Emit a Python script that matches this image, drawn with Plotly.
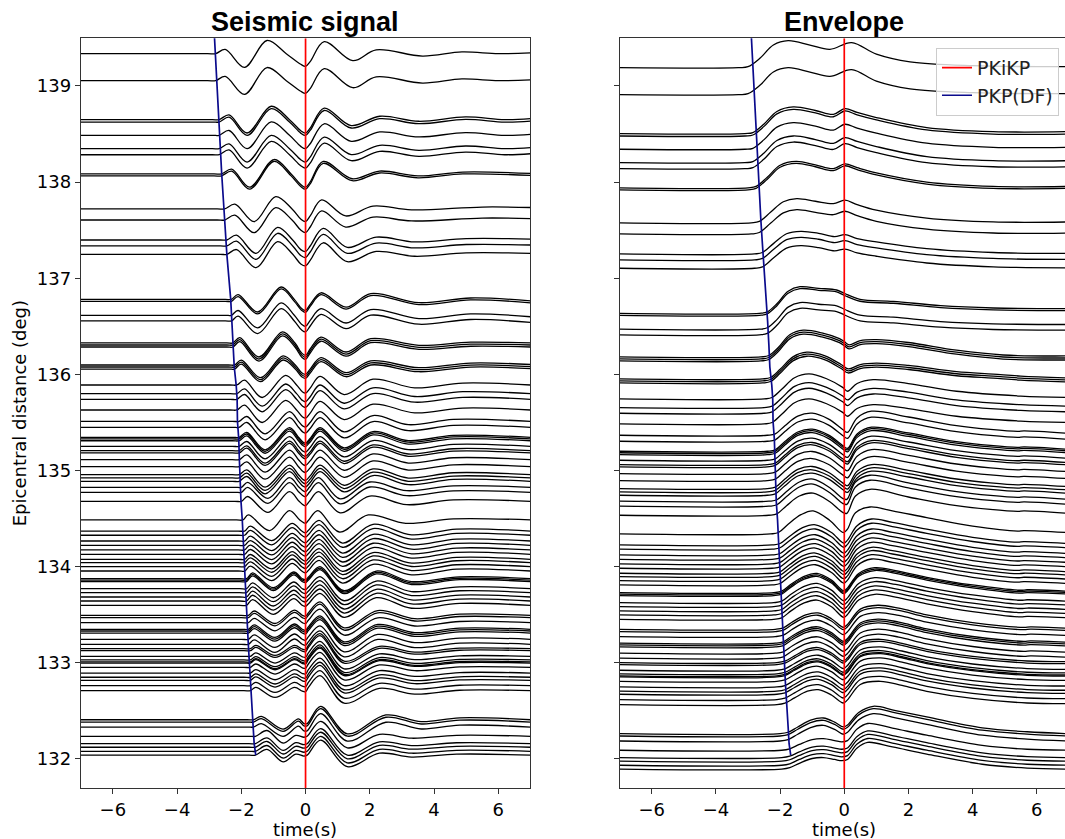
import plotly.graph_objects as go

# ---------------- data ----------------
# epicentral distance of each station trace (deg)
distances = [139.336, 139.055, 138.650, 138.625, 138.487, 138.348, 138.285, 138.085, 138.065,
             137.721, 137.606, 137.398, 137.336, 137.249, 136.780, 136.760, 136.615, 136.556,
             136.327, 136.306, 136.285, 136.098, 136.077, 136.056, 135.890, 135.800, 135.741,
             135.630, 135.512, 135.450, 135.346, 135.330, 135.310, 135.252, 135.207, 135.183,
             135.113, 135.040, 134.957, 134.923, 134.888, 134.826, 134.774, 134.680, 134.486,
             134.371, 134.327, 134.267, 134.222, 134.174, 134.129, 134.077, 134.042, 134.000,
             133.955, 133.875, 133.860, 133.845, 133.771, 133.730, 133.685, 133.643, 133.598,
             133.494, 133.470, 133.418, 133.349, 133.331, 133.310, 133.245, 133.193, 133.147,
             133.126, 133.068, 133.030, 133.009, 132.998, 132.953, 132.894, 132.850, 132.818,
             132.762, 132.710, 132.408, 132.384, 132.332, 132.236, 132.159, 132.122, 132.080,
             132.040]

# lower distance bound of each waveform group (traces in a group share one shape)
group_floor = [138.9, 138.2, 137.9, 137.5, 137.0, 136.45, 136.2, 135.95, 135.55,
               134.85, 134.55, 134.4, 133.95, 133.55, 133.15, 132.7, 132.3, 0.0]

# seismic waveform key points per group: (time s, amplitude deg)
seismic_shapes = [
    [(-7, 0), (-3.05, 0), (-2.8, 0), (-2.5, 0.045), (-1.9, -0.142), (-1.2, 0.137), (-0.6, 0.0), (-0.15, -0.11), (0, -0.132), (0.15, -0.08), (0.58, 0.125), (1.47, -0.073), (2.2, 0.04), (3.64, -0.025), (4.87, 0.018), (6.0, 0.0), (7, 0.008)],
    [(-7, 0), (-2.9, 0), (-2.69, 0), (-2.38, 0.05), (-1.82, -0.139), (-1.07, 0.139), (-0.5, 0.0), (-0.15, -0.115), (0, -0.139), (0.15, -0.085), (0.58, 0.12), (1.42, -0.062), (2.31, 0.035), (3.53, -0.017), (4.98, 0.028), (6.2, 0.0), (7, 0.01)],
    [(-7, 0), (-2.85, 0), (-2.62, 0), (-2.3, 0.05), (-1.74, -0.138), (-0.98, 0.15), (-0.45, 0.0), (-0.15, -0.11), (0, -0.138), (0.15, -0.08), (0.55, 0.13), (1.45, -0.05), (2.3, 0.03), (3.5, -0.02), (4.9, 0.02), (7, 0.005)],
    [(-7, 0), (-2.75, 0), (-2.52, 0), (-2.2, 0.05), (-1.6, -0.132), (-0.93, 0.128), (-0.42, 0.0), (-0.15, -0.105), (0, -0.132), (0.15, -0.07), (0.5, 0.094), (1.25, -0.073), (2.1, 0.03), (3.3, -0.01), (5.5, 0.02), (7, 0.015)],
    [(-7, 0), (-2.65, 0), (-2.45, 0), (-2.15, 0.05), (-1.54, -0.139), (-0.87, 0.132), (-0.4, 0.0), (-0.15, -0.1), (0, -0.12), (0.15, -0.06), (0.55, 0.12), (1.3, -0.077), (2.2, 0.03), (3.4, -0.02), (5.0, 0.015), (7, 0.01)],
    [(-7, 0), (-2.5, 0), (-2.31, 0), (-2.1, 0.05), (-1.49, -0.131), (-0.76, 0.129), (-0.35, 0.0), (-0.12, -0.095), (0, -0.114), (0.15, -0.05), (0.48, 0.069), (1.26, -0.08), (2.03, 0.06), (3.53, -0.034), (5.14, 0.015), (7, -0.015)],
    [(-7, 0), (-2.45, 0), (-2.26, 0), (-2.05, 0.056), (-1.45, -0.146), (-0.72, 0.115), (-0.33, 0.0), (-0.12, -0.105), (0, -0.128), (0.15, -0.06), (0.48, 0.06), (1.26, -0.094), (2.03, 0.045), (3.53, -0.024), (5.14, 0.008), (7, 0.0)],
    [(-7, 0), (-2.4, 0), (-2.21, 0), (-2.0, 0.05), (-1.4, -0.132), (-0.7, 0.094), (-0.32, 0.0), (-0.12, -0.08), (0, -0.097), (0.15, -0.04), (0.48, 0.076), (1.26, -0.08), (2.03, 0.042), (3.53, -0.028), (5.14, 0.02), (7, 0.005)],
    [(-7, 0), (-2.35, 0), (-2.14, 0), (-1.9, 0.05), (-1.35, -0.13), (-0.62, 0.1), (-0.28, 0.0), (-0.1, -0.07), (0, -0.085), (0.15, -0.03), (0.45, 0.09), (1.2, -0.1), (2.1, 0.06), (3.4, -0.03), (4.9, 0.02), (7, 0.0)],
    [(-7, 0), (-2.28, 0), (-2.07, 0), (-1.83, 0.05), (-1.26, -0.13), (-0.5, 0.1), (-0.22, 0.0), (-0.08, -0.05), (0, -0.06), (0.15, -0.01), (0.45, 0.1), (1.2, -0.11), (2.1, 0.06), (3.2, -0.035), (4.6, 0.02), (7, 0.0)],
    [(-7, 0), (-2.2, 0), (-2.0, 0), (-1.8, 0.05), (-1.17, -0.115), (-0.5, 0.1), (-0.2, 0.0), (-0.06, -0.04), (0, -0.045), (0.12, 0.0), (0.4, 0.1), (1.08, -0.12), (2.0, 0.055), (3.15, -0.035), (4.6, 0.015), (7, 0.0)],
    [(-7, 0), (-2.15, 0), (-1.95, 0), (-1.78, 0.052), (-1.12, -0.11), (-0.5, 0.097), (-0.18, 0.0), (-0.05, -0.03), (0, -0.035), (0.1, 0.0), (0.38, 0.097), (1.05, -0.125), (1.95, 0.052), (3.12, -0.035), (4.6, 0.012), (7, 0.0)],
    [(-7, 0), (-2.1, 0), (-1.9, 0), (-1.72, 0.05), (-1.05, -0.1), (-0.42, 0.08), (-0.12, 0.0), (0, -0.02), (0.1, 0.01), (0.42, 0.11), (1.15, -0.125), (2.1, 0.07), (3.3, -0.04), (4.7, 0.02), (7, 0.0)],
    [(-7, 0), (-2.05, 0), (-1.84, 0), (-1.65, 0.06), (-1.0, -0.094), (-0.37, 0.07), (-0.1, 0.0), (0, -0.01), (0.1, 0.02), (0.45, 0.125), (1.2, -0.125), (2.2, 0.08), (3.3, -0.03), (4.8, 0.02), (7, 0.0)],
    [(-7, 0), (-2.0, 0), (-1.78, 0), (-1.6, 0.045), (-0.95, -0.085), (-0.35, 0.055), (-0.1, 0.0), (0, -0.01), (0.1, 0.03), (0.45, 0.14), (1.2, -0.13), (2.25, 0.05), (3.4, -0.035), (4.8, 0.012), (7, 0.0)],
    [(-7, 0), (-1.92, 0), (-1.72, 0), (-1.55, 0.035), (-0.95, -0.07), (-0.34, 0.035), (-0.1, -0.005), (0, -0.01), (0.1, 0.04), (0.45, 0.156), (1.2, -0.13), (2.3, 0.025), (3.4, -0.035), (4.8, 0.005), (7, 0.0)],
    [(-7, 0), (-1.82, 0), (-1.62, 0), (-1.38, 0.035), (-0.7, -0.097), (-0.22, 0.01), (-0.05, -0.04), (0.05, -0.04), (0.47, 0.139), (1.3, -0.146), (2.5, 0.05), (3.6, -0.02), (4.8, 0.02), (7, 0.0)],
    [(-7, 0), (-1.76, 0), (-1.56, 0), (-1.2, 0.06), (-0.7, -0.07), (-0.3, 0.01), (-0.05, -0.01), (0.05, 0.0), (0.47, 0.156), (1.3, -0.12), (2.3, 0.02), (3.3, -0.02), (4.7, 0.01), (7, 0.0)],
]

# envelope key points per group: (time s, amplitude above envelope baseline, deg)
envelope_shapes = [
    [(-7, 0), (-3.3, 0), (-3.0, 0.01), (-2.63, 0.097), (-2.21, 0.235), (-1.75, 0.28), (-1.07, 0.235), (-0.45, 0.19), (0.23, 0.26), (1.0, 0.14), (2.05, 0.06), (4.0, 0.02), (7, 0.01)],
    [(-7, 0), (-3.1, 0), (-2.85, 0.01), (-2.5, 0.1), (-2.1, 0.23), (-1.59, 0.277), (-0.9, 0.24), (-0.34, 0.2), (0.02, 0.26), (0.4, 0.22), (1.0, 0.167), (2.57, 0.063), (4.64, 0.02), (7, 0.02)],
    [(-7, 0), (-3.0, 0), (-2.75, 0.015), (-2.4, 0.11), (-2.0, 0.235), (-1.5, 0.275), (-0.9, 0.24), (-0.34, 0.2), (0.02, 0.25), (0.4, 0.21), (1.0, 0.155), (2.57, 0.06), (4.64, 0.015), (7, 0.015)],
    [(-7, 0), (-2.9, 0), (-2.65, 0.015), (-2.3, 0.11), (-1.9, 0.22), (-1.48, 0.253), (-0.9, 0.225), (-0.34, 0.2), (0.02, 0.236), (0.4, 0.19), (1.0, 0.132), (2.57, 0.05), (4.64, 0.01), (7, 0.01)],
    [(-7, 0), (-2.8, 0), (-2.55, 0.015), (-2.2, 0.11), (-1.8, 0.21), (-1.35, 0.235), (-0.8, 0.215), (-0.3, 0.18), (0.02, 0.2), (0.4, 0.16), (1.0, 0.125), (2.57, 0.055), (4.64, 0.015), (7, 0.005)],
    [(-7, 0), (-2.65, 0), (-2.4, 0.015), (-2.1, 0.1), (-1.75, 0.23), (-1.38, 0.277), (-0.8, 0.26), (-0.24, 0.243), (0, 0.208), (0.49, 0.146), (1.53, 0.125), (3.0, 0.08), (4.64, 0.056), (7, 0.049)],
    [(-7, 0), (-2.6, 0), (-2.35, 0.015), (-2.05, 0.1), (-1.7, 0.23), (-1.28, 0.278), (-0.7, 0.25), (-0.15, 0.19), (0.0, 0.16), (0.15, 0.125), (0.5, 0.17), (1.0, 0.18), (2.0, 0.15), (3.5, 0.07), (4.95, 0.02), (7, 0.01)],
    [(-7, 0), (-2.55, 0), (-2.3, 0.015), (-2.0, 0.1), (-1.6, 0.23), (-1.17, 0.278), (-0.6, 0.24), (-0.1, 0.15), (0.12, 0.104), (0.5, 0.15), (1.0, 0.165), (2.0, 0.14), (3.5, 0.075), (4.64, 0.05), (5.5, 0.03), (7, 0.01)],
    [(-7, 0), (-2.5, 0), (-2.25, 0.015), (-1.95, 0.1), (-1.55, 0.22), (-1.1, 0.26), (-0.55, 0.21), (-0.05, 0.12), (0.1, 0.08), (0.4, 0.16), (0.9, 0.2), (2.0, 0.16), (3.5, 0.08), (5.5, 0.03), (7, 0.015)],
    [(-7, 0), (-2.4, 0), (-2.15, 0.015), (-1.85, 0.1), (-1.45, 0.2), (-1.0, 0.23), (-0.5, 0.17), (-0.05, 0.06), (0.1, 0.03), (0.4, 0.18), (0.85, 0.25), (2.0, 0.19), (3.5, 0.1), (5.4, 0.04), (5.6, 0.045), (7, 0.02)],
    [(-7, 0), (-2.35, 0), (-2.1, 0.015), (-1.8, 0.1), (-1.4, 0.2), (-0.97, 0.23), (-0.45, 0.14), (-0.05, 0.03), (0.08, 0.02), (0.35, 0.2), (0.8, 0.27), (2.0, 0.19), (3.5, 0.1), (5.4, 0.04), (5.6, 0.045), (7, 0.02)],
    [(-7, 0), (-2.3, 0), (-2.05, 0.015), (-1.75, 0.1), (-1.35, 0.2), (-0.97, 0.24), (-0.45, 0.14), (-0.03, 0.014), (0.1, 0.05), (0.35, 0.22), (0.8, 0.28), (1.5, 0.24), (2.57, 0.17), (4.0, 0.08), (5.4, 0.03), (5.6, 0.035), (7, 0.014)],
    [(-7, 0), (-2.25, 0), (-2.0, 0.015), (-1.7, 0.09), (-1.3, 0.18), (-0.9, 0.21), (-0.4, 0.13), (-0.02, 0.02), (0.1, 0.05), (0.4, 0.2), (0.85, 0.27), (1.5, 0.235), (2.57, 0.165), (4.0, 0.08), (5.4, 0.03), (5.6, 0.035), (7, 0.015)],
    [(-7, 0), (-2.2, 0), (-1.95, 0.015), (-1.65, 0.09), (-1.25, 0.17), (-0.85, 0.2), (-0.4, 0.13), (-0.02, 0.02), (0.1, 0.05), (0.45, 0.2), (0.95, 0.26), (1.6, 0.23), (2.57, 0.16), (4.0, 0.08), (5.5, 0.025), (5.7, 0.03), (7, 0.015)],
    [(-7, 0), (-2.15, 0), (-1.9, 0.015), (-1.6, 0.08), (-1.2, 0.15), (-0.82, 0.17), (-0.4, 0.11), (-0.03, 0.02), (0.1, 0.05), (0.5, 0.21), (1.05, 0.25), (1.7, 0.22), (2.57, 0.15), (4.0, 0.07), (5.6, 0.02), (5.8, 0.025), (7, 0.01)],
    [(-7, 0), (-2.1, 0), (-1.85, 0.015), (-1.55, 0.07), (-1.15, 0.14), (-0.81, 0.156), (-0.4, 0.1), (-0.03, 0.017), (0.1, 0.05), (0.5, 0.21), (1.13, 0.243), (1.8, 0.2), (2.57, 0.139), (4.0, 0.065), (5.7, 0.017), (7, 0.01)],
    [(-7, 0), (-2.0, 0), (-1.75, 0.015), (-1.45, 0.07), (-1.05, 0.14), (-0.65, 0.163), (-0.3, 0.12), (-0.03, 0.07), (0.1, 0.09), (0.45, 0.22), (0.9, 0.285), (1.6, 0.24), (2.57, 0.174), (4.3, 0.06), (5.7, 0.02), (7, 0.0)],
    [(-7, 0), (-1.95, 0), (-1.7, 0.015), (-1.4, 0.06), (-1.0, 0.11), (-0.65, 0.12), (-0.3, 0.1), (-0.08, 0.087), (0.1, 0.1), (0.4, 0.22), (0.73, 0.278), (1.5, 0.23), (2.57, 0.156), (4.3, 0.05), (5.7, 0.01), (7, 0.0)],
]
envelope_baseline_offset = -0.145

# predicted PKP(DF) arrival picks (distance, time) for each panel
df_dist = [139.60, 139.336, 139.055, 138.650, 138.487, 138.285, 138.085, 137.721, 137.606,
           137.398, 137.249, 136.780, 136.556, 136.306, 136.077, 135.890, 135.741, 135.512,
           135.330, 135.113, 134.888, 134.680, 134.486, 134.267, 134.042, 133.860, 133.643,
           133.418, 133.245, 133.009, 132.762, 132.710, 132.408, 132.332, 132.159, 132.040]
df_time_seismic = [-2.85, -2.81, -2.77, -2.70, -2.68, -2.64, -2.61, -2.54, -2.52, -2.48, -2.45,
                   -2.33, -2.30, -2.26, -2.22, -2.16, -2.13, -2.12, -2.08, -2.06, -2.04, -2.01,
                   -1.97, -1.94, -1.92, -1.88, -1.86, -1.82, -1.79, -1.75, -1.71, -1.70, -1.66,
                   -1.63, -1.60, -1.55]
df_time_envelope = [-2.91, -2.87, -2.83, -2.77, -2.75, -2.71, -2.68, -2.62, -2.60, -2.56, -2.53,
                    -2.42, -2.39, -2.35, -2.32, -2.26, -2.23, -2.22, -2.18, -2.16, -2.14, -2.12,
                    -2.08, -2.05, -2.03, -1.99, -1.97, -1.94, -1.91, -1.87, -1.83, -1.82, -1.78,
                    -1.75, -1.72, -1.67]
pkikp_time = 0.0

x_ticks = [-6, -4, -2, 0, 2, 4, 6]
x_ticktext = ["\u22126", "\u22124", "\u22122", "0", "2", "4", "6"]
y_ticks = [132, 133, 134, 135, 136, 137, 138, 139]
y_range = [131.695, 139.496]

# ---------------- figure ----------------
W, H = 1065, 839
FONT = "DejaVu Sans"
TITLE_FONT = "Liberation Sans"
fig = go.Figure()

trace_line = dict(color="black", width=1.3, shape="spline", smoothing=1.0)

for d in distances:
    g = next(i for i, f in enumerate(group_floor) if d >= f)
    s = seismic_shapes[g]
    e = envelope_shapes[g]
    fig.add_trace(go.Scatter(x=[p[0] for p in s], y=[d + p[1] for p in s], mode="lines",
                             line=trace_line, xaxis="x", yaxis="y", showlegend=False,
                             hoverinfo="skip"))
    fig.add_trace(go.Scatter(x=[p[0] for p in e],
                             y=[d + envelope_baseline_offset + p[1] for p in e], mode="lines",
                             line=trace_line, xaxis="x2", yaxis="y2", showlegend=False,
                             hoverinfo="skip"))

red = dict(color="red", width=1.7)
blue = dict(color="#0a0a8c", width=1.7)
# PKiKP reference time lines
fig.add_trace(go.Scatter(x=[pkikp_time, pkikp_time], y=y_range, mode="lines", line=red,
                         xaxis="x", yaxis="y", showlegend=False, hoverinfo="skip"))
fig.add_trace(go.Scatter(x=[pkikp_time, pkikp_time], y=y_range, mode="lines", line=red,
                         xaxis="x2", yaxis="y2", name="PKiKP", showlegend=True, hoverinfo="skip"))
# PKP(DF) predicted arrivals
fig.add_trace(go.Scatter(x=df_time_seismic, y=df_dist, mode="lines", line=blue,
                         xaxis="x", yaxis="y", showlegend=False, hoverinfo="skip"))
fig.add_trace(go.Scatter(x=df_time_envelope, y=df_dist, mode="lines", line=blue,
                         xaxis="x2", yaxis="y2", name="PKP(DF)", showlegend=True, hoverinfo="skip"))

def px_x(v):
    return v / W

def px_y(v):
    return 1 - v / H

axis_common = dict(showgrid=False, zeroline=False, showline=True, linecolor="#333333",
                   linewidth=1, ticks="outside", ticklen=5, tickwidth=1, tickcolor="#333333",
                   tickfont=dict(family=FONT, size=18, color="black"))

y_dom = [px_y(788.3), px_y(38.3)]
fig.update_layout(
    width=W, height=H, autosize=False,
    margin=dict(l=0, r=0, t=0, b=0, pad=0),
    paper_bgcolor="white", plot_bgcolor="white",
    font=dict(family=FONT, size=17, color="black"),
    xaxis=dict(domain=[px_x(80.7), px_x(530.4)], range=[-7, 7], tickvals=x_ticks,
               ticktext=x_ticktext, anchor="y", mirror=True, **axis_common),
    yaxis=dict(domain=y_dom, range=y_range, tickvals=y_ticks, anchor="x", mirror=True,
               **axis_common),
    xaxis2=dict(domain=[px_x(619.7), 1.0], range=[-7, 6.88], tickvals=x_ticks,
                ticktext=x_ticktext, anchor="y2", mirror=True, **axis_common),
    yaxis2=dict(domain=y_dom, range=y_range, tickvals=y_ticks, anchor="x2",
                showticklabels=False, mirror=False, **axis_common),
    legend=dict(x=px_x(1059), y=px_y(47.7), xanchor="right", yanchor="top",
                bgcolor="rgba(255,255,255,0.8)", bordercolor="#cccccc", borderwidth=1,
                font=dict(family=FONT, size=19, color="#222222"), tracegroupgap=0),
    annotations=[
        dict(text="<b>Seismic signal</b>", x=px_x(305), y=px_y(22), xref="paper", yref="paper",
             xanchor="center", yanchor="middle", showarrow=False,
             font=dict(family=TITLE_FONT, size=27, color="black")),
        dict(text="<b>Envelope</b>", x=px_x(844.3), y=px_y(22), xref="paper", yref="paper",
             xanchor="center", yanchor="middle", showarrow=False,
             font=dict(family=TITLE_FONT, size=27, color="black")),
        dict(text="time(s)", x=px_x(305), y=px_y(829), xref="paper", yref="paper",
             xanchor="center", yanchor="middle", showarrow=False,
             font=dict(family=FONT, size=18, color="black")),
        dict(text="time(s)", x=px_x(844.3), y=px_y(829), xref="paper", yref="paper",
             xanchor="center", yanchor="middle", showarrow=False,
             font=dict(family=FONT, size=18, color="black")),
        dict(text="Epicentral distance (deg)", x=px_x(19), y=px_y(413.3), xref="paper",
             yref="paper", xanchor="center", yanchor="middle", showarrow=False, textangle=-90,
             font=dict(family=FONT, size=18, color="black")),
    ],
)

fig.write_html("out.html")
